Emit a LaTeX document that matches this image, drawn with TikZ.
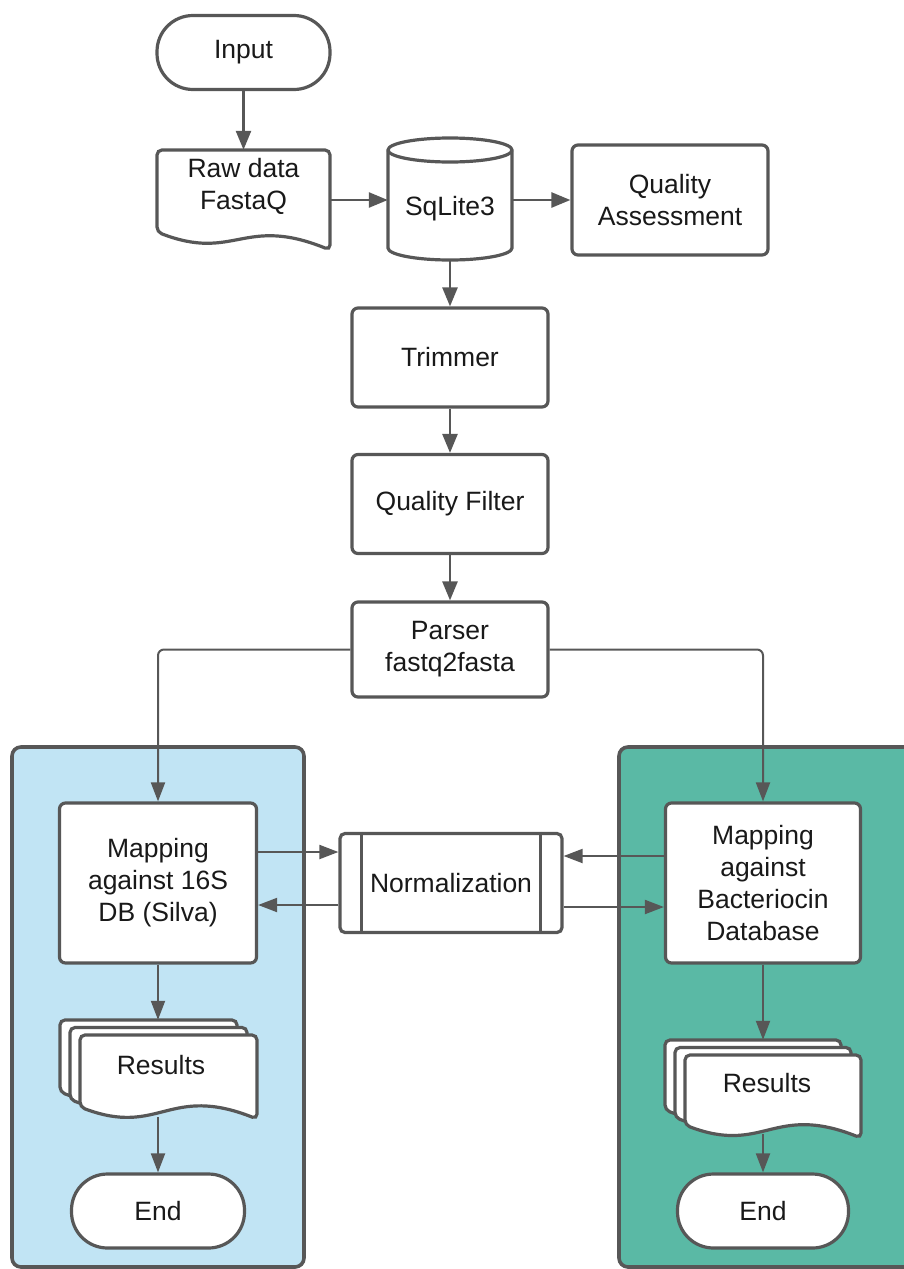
\documentclass[tikz,border=0pt]{standalone}
\usepackage{fontspec}
\setmainfont{Liberation Sans}
\usepackage{xcolor}
\usetikzlibrary{positioning,calc,arrows.meta}
\definecolor{figedge}{HTML}{575757}
\definecolor{figblue}{HTML}{C1E4F4}
\definecolor{figteal}{HTML}{5AB9A5}
\tikzset{
  figfont/.style={font=\fontsize{26.5}{32}\selectfont, text=black!90},
  figbox/.style={draw=figedge, line width=3.2pt, rounded corners=6pt, fill=white, align=center, inner sep=0pt, minimum width=196pt, minimum height=99pt},
  figterm/.style={figbox, rounded corners=36pt, minimum width=173pt, minimum height=74pt},
  figshape/.style={draw=figedge, line width=3.2pt, fill=white},
  figspot/.style={inner sep=0pt},
  figpanel/.style={draw=figedge, line width=3.6pt, rounded corners=9pt},
  figarrow/.style={draw=figedge, line width=2.6pt, -{Triangle[length=19pt, width=15pt]}},
  figarrowthin/.style={figarrow, line width=2pt, -{Triangle[length=19pt, width=14pt]}},
}
% document outline: left x, top y, width, depth at left, depth at right
\newcommand{\figdoc}[5]{%
  \draw[figshape, rounded corners=5pt] (#1,#2) -- (#1+#3,#2) -- (#1+#3,#2+#5)
    .. controls (#1+0.5*#3,#2+#5-35) and (#1+0.45*#3,#2+#4+30) .. (#1,#2+#4) -- cycle;}

\begin{document}
\begin{tikzpicture}[x=1pt,y=-1pt,figfont]
  \useasboundingbox (0,0) rectangle (903,1269);

  % Panels behind the two mapping branches
  \draw[figpanel, fill=figblue] (12,747) rectangle (304,1267);
  \draw[figpanel, fill=figteal] (619,747) rectangle (925,1267);

  % Top: input, raw reads and database
  \node[figterm] (input) at (243.5,52.5) {Input};
  \figdoc{157}{150}{173}{82}{100}
  \node[figspot, minimum width=173pt, minimum height=100pt,
        label={[align=center, yshift=14pt]center:Raw data\\FastaQ}] (raw) at (243.5,200) {};
  \draw[figshape] (388,150) -- (388,248)
    arc[start angle=180, end angle=360, x radius=62pt, y radius=12pt] -- (512,150)
    arc[start angle=0, end angle=180, x radius=62pt, y radius=12pt] -- cycle;
  \draw[figshape, fill=none] (388,150) arc[start angle=180, end angle=360, x radius=62pt, y radius=12pt];
  \node[figspot, minimum width=124pt, minimum height=122pt,
        label={[yshift=-9pt]center:SqLite3}] (db) at (450,200) {};
  \node[figbox, minimum height=110pt] (qa) at (670,200) {Quality\\Assessment};

  % Middle: preprocessing chain
  \node[figbox] (trim) at (450,357.5) {Trimmer};
  \node[figbox] (qf) at (450,504) {Quality Filter};
  \node[figbox, minimum height=95pt] (parser) at (450,649.5) {Parser\\fastq2fasta};

  \draw[figarrow] (input) -- (raw);
  \draw[figarrow] (raw) -- (db);
  \draw[figarrow] (db) -- (qa);
  \draw[figarrow] (db) -- (trim);
  \draw[figarrow] (trim) -- (qf);
  \draw[figarrow] (qf) -- (parser);

  % Bottom: mapping, normalization and results
  \node[figbox, minimum width=197pt, minimum height=160pt] (mapL) at (158,883) {Mapping\\against 16S\\DB (Silva)};
  \node[figbox, minimum width=195pt, minimum height=160pt] (mapR) at (763,883) {Mapping\\against\\Bacteriocin\\Database};
  \node[figbox, minimum width=222pt, minimum height=99pt, rounded corners=5pt] (norm) at (451,883) {Normalization};
  \draw[figedge, line width=3.2pt] ([xshift=23pt]norm.north west) -- ([xshift=23pt]norm.south west);
  \draw[figedge, line width=3.2pt] ([xshift=-23pt]norm.north east) -- ([xshift=-23pt]norm.south east);

  \foreach \k in {0,1,2} {\figdoc{60+10*\k}{1020+7.5*\k}{177}{72}{84}}
  \foreach \k in {0,1,2} {\figdoc{665+10*\k}{1040+7.5*\k}{176}{70}{83}}
  \node[figspot, minimum height=97pt, label={[xshift=3pt, yshift=3.5pt]center:Results}] (resL) at (158,1068.5) {};
  \node[figspot, minimum height=94pt, label={[xshift=4pt, yshift=4pt]center:Results}] (resR) at (763,1087) {};
  \node[figterm] (endL) at (158,1211) {End};
  \node[figterm, minimum width=171pt] (endR) at (763,1211) {End};

  \draw[figarrowthin, rounded corners=6pt] (parser.west) -| (mapL.north);
  \draw[figarrowthin, rounded corners=6pt] (parser.east) -| (mapR.north);
  \draw[figarrowthin] ([yshift=31pt]mapL.east) -- ([yshift=31pt]norm.west);
  \draw[figarrowthin] ([yshift=-22pt]norm.west) -- ([yshift=-22pt]mapL.east);
  \draw[figarrowthin] ([yshift=27pt]mapR.west) -- ([yshift=27pt]norm.east);
  \draw[figarrowthin] ([yshift=-24pt]norm.east) -- ([yshift=-24pt]mapR.west);
  \draw[figarrowthin] (mapL) -- (resL);
  \draw[figarrowthin] (resL) -- (endL);
  \draw[figarrowthin] (mapR) -- (resR);
  \draw[figarrowthin] (resR) -- (endR);
\end{tikzpicture}
\end{document}
